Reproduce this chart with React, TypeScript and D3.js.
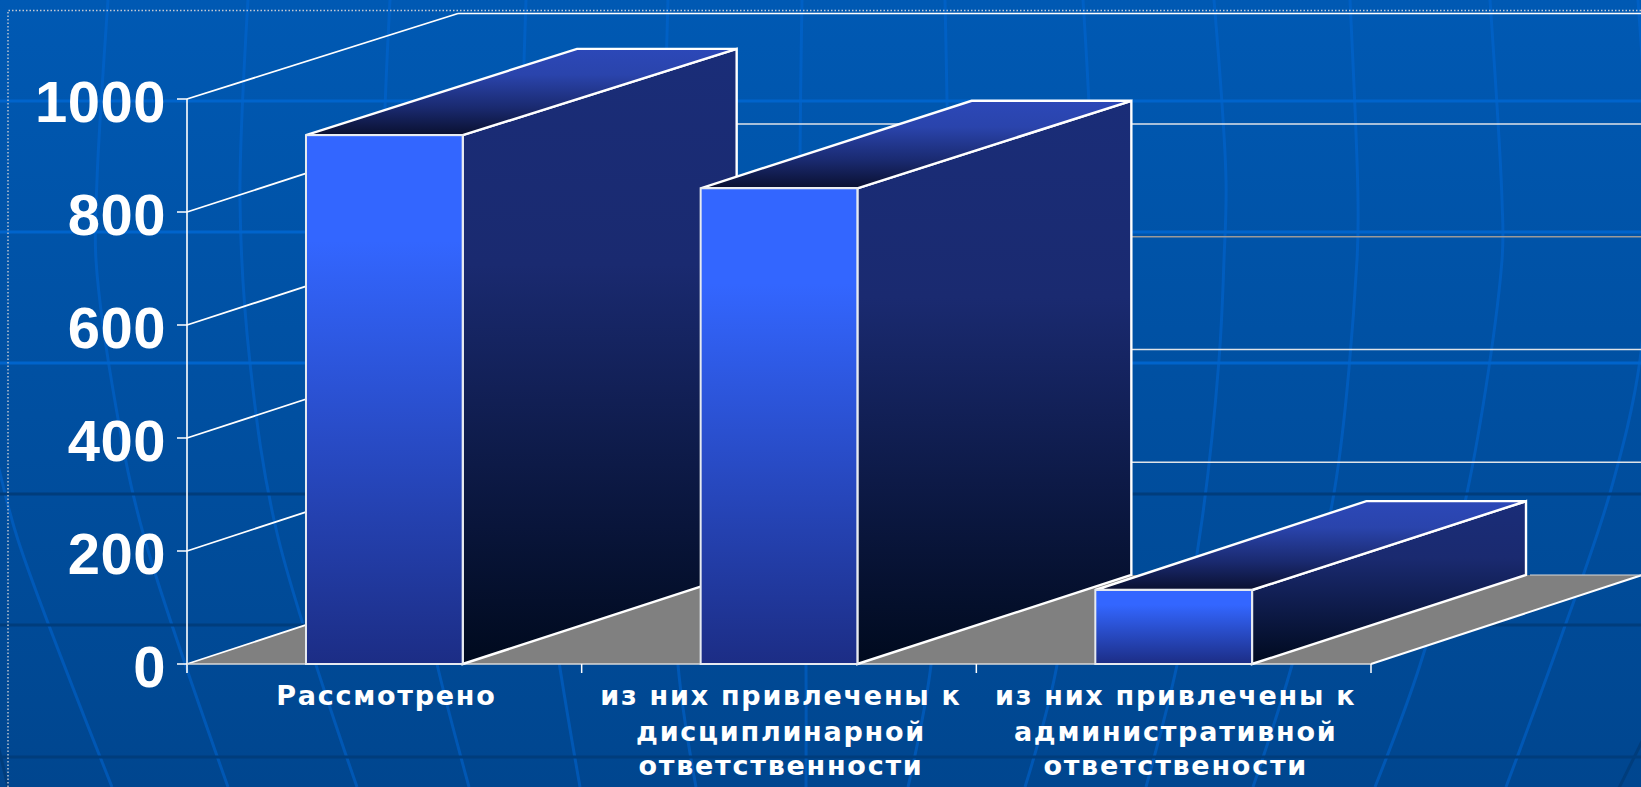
import React, { useEffect, useRef } from 'react';
import * as d3 from 'd3';

const width = 1641;
const height = 787;

const categories = ['Рассмотрено', 'дисциплинарной', 'административной'];
const categoryLabels = [
  ['Рассмотрено'],
  ['из них привлечены к', 'дисциплинарной', 'ответственности'],
  ['из них привлечены к', 'административной', 'ответствености'],
];
const values = [936, 842, 131];
const yTicks = [0, 200, 400, 600, 800, 1000];

// template background, not chart data
const brightBands = [101, 232, 363];
const darkBands = [494, 625, 757];
const meridians: [number, number][][] = [
  [[-40, 300], [0, 473], [18, 540], [112, 787]],
  [[108, 0], [97, 180], [96, 260], [117, 413], [143, 533], [228, 787]],
  [[248, 0], [240, 200], [250, 363], [277, 533], [357, 787]],
  [[390, 0], [383, 200], [390, 363], [410, 533], [437, 664], [469, 787]],
  [[526, 0], [522, 200], [530, 400], [550, 600], [580, 787]],
  [[668, 0], [664, 200], [668, 400], [678, 665], [696, 787]],
  [[802, 0], [800, 180], [802, 400], [806, 665], [806, 787]],
  [[945, 0], [948, 200], [945, 400], [931, 665], [908, 787]],
  [[1083, 0], [1092, 200], [1085, 400], [1057, 665], [1025, 787]],
  [[1214, 0], [1226, 180], [1224, 260], [1219, 360], [1202, 520], [1177, 665], [1146, 787]],
  [[1350, 0], [1358, 200], [1357, 260], [1334, 493], [1292, 665], [1253, 787]],
  [[1490, 0], [1502, 200], [1502, 260], [1467, 493], [1420, 665], [1375, 787]],
  [[1638, 0], [1648, 200], [1640, 360], [1610, 493], [1560, 640], [1506, 787]],
];

const App: React.FC = () => {
  const ref = useRef<SVGSVGElement>(null);

  useEffect(() => {
    if (!ref.current) return;
    const svg = d3.select(ref.current);
    svg.selectAll('*').remove();

    const y = d3.scaleLinear().domain([0, 1000]).range([664, 99]);
    // back wall is a bit squashed in the picture, so it gets its own scale
    const yBack = d3.scaleLinear().domain([0, 800, 1000]).range([575, 124, 13.5]);
    const x = d3.scaleBand<string>().domain(categories).range([187, 1371]).paddingInner(0.603).paddingOuter(0.3015);
    const band = d3.scaleBand<string>().domain(categories).range([187, 1371]);
    const depthX = 271;
    const backWiden = 3;

    const defs = svg.append('defs');
    const gradient = (id: string, stops: [number, string][]) => {
      const g = defs.append('linearGradient').attr('id', id).attr('x1', 0).attr('y1', 0).attr('x2', 0).attr('y2', 1);
      stops.forEach(([o, c]) => g.append('stop').attr('offset', o).attr('stop-color', c));
    };
    gradient('bg', [[0, '#0059b3'], [1, '#00468f']]);
    gradient('front', [[0, '#3366ff'], [0.2, '#3366ff'], [1, '#1c2d85']]);
    gradient('side', [[0, '#1a2d78'], [0.35, '#1a2a70'], [1, '#000a1e']]);
    gradient('top', [[0, '#2c48b8'], [0.3, '#2a44ac'], [0.68, '#1a2a70'], [1, '#0a1030']]);

    svg.append('rect').attr('width', width).attr('height', height).attr('fill', 'url(#bg)');

    const curve = d3.line().curve(d3.curveCatmullRom);
    svg.append('g').selectAll('path').data(meridians).enter().append('path')
      .attr('d', d => curve(d))
      .attr('fill', 'none')
      .attr('stroke', '#0068d8')
      .attr('stroke-opacity', 0.5)
      .attr('stroke-width', 3);
    svg.append('path').attr('d', 'M1618,790L1650,725').attr('fill', 'none').attr('stroke', '#003d7c').attr('stroke-width', 3);
    svg.append('path').attr('d', 'M-2,745L8,787').attr('fill', 'none').attr('stroke', '#003d7c').attr('stroke-width', 3);

    svg.append('g').selectAll('rect').data(brightBands).enter().append('rect')
      .attr('x', 0).attr('y', d => d - 1.5).attr('width', width).attr('height', 3).attr('fill', '#0064cc');
    svg.append('g').selectAll('rect').data(darkBands).enter().append('rect')
      .attr('x', 0).attr('y', d => d - 1.5).attr('width', width).attr('height', 3).attr('fill', '#003d7c');

    // dotted placeholder frame
    svg.append('path').attr('d', `M8,${height}V10.5H${width}`)
      .attr('fill', 'none').attr('stroke', '#c4cad4').attr('stroke-width', 1.4).attr('stroke-dasharray', '1.5 2');

    // floor
    const x0 = 187;
    const x1 = 1371;
    svg.append('polygon')
      .attr('points', [[x0, y(0)], [x1, y(0)], [x1 + depthX, yBack(0)], [x0 + depthX + 1, yBack(0)]].join(' '))
      .attr('fill', '#808080');

    // walls
    const grid = svg.append('g').attr('fill', 'none').attr('stroke', '#ffffff');
    yTicks.forEach(t => {
      if (t > 0) {
        grid.append('line').attr('x1', x0 + depthX).attr('x2', width).attr('y1', yBack(t)).attr('y2', yBack(t))
          .attr('stroke', t === 1000 ? '#ffffff' : t === 600 ? '#9a9a9a' : '#dfe3e8').attr('stroke-width', 1.6);
      }
      grid.append('line').attr('x1', x0).attr('x2', x0 + depthX).attr('y1', y(t)).attr('y2', yBack(t))
        .attr('stroke-width', 1.8);
      grid.append('line').attr('x1', x0 - 10).attr('x2', x0).attr('y1', y(t)).attr('y2', y(t)).attr('stroke-width', 1.5);
    });
    grid.append('line').attr('x1', x0).attr('x2', x0).attr('y1', y(1000)).attr('y2', y(0) + 9).attr('stroke-width', 1.6);
    grid.append('line').attr('x1', x1).attr('x2', x1 + depthX).attr('y1', y(0)).attr('y2', yBack(0)).attr('stroke-width', 2);
    grid.append('line').attr('x1', x0).attr('x2', x1).attr('y1', y(0)).attr('y2', y(0)).attr('stroke', '#d8d8d8').attr('stroke-width', 1.6);
    grid.append('line').attr('x1', 1530).attr('x2', x1 + depthX).attr('y1', yBack(0)).attr('y2', yBack(0)).attr('stroke', '#d8d8d8').attr('stroke-width', 1.2);
    [band(categories[1])!, band(categories[2])!, x1].forEach(t => {
      grid.append('line').attr('x1', t).attr('x2', t).attr('y1', y(0)).attr('y2', y(0) + 9).attr('stroke-width', 1.5);
    });

    // bars, back to front
    categories.forEach((c, i) => {
      const v = values[i];
      const left = x(c)!;
      const right = left + x.bandwidth();
      const backRight = right + depthX + backWiden;
      const bar = svg.append('g').attr('stroke', '#ffffff').attr('stroke-linejoin', 'miter');
      bar.append('polygon')
        .attr('points', [[right, y(0)], [backRight, yBack(0)], [backRight, yBack(v)], [right, y(v)]].join(' '))
        .attr('fill', 'url(#side)').attr('stroke-width', 2.4);
      bar.append('polygon')
        .attr('points', [[left, y(v)], [right, y(v)], [backRight, yBack(v)], [left + depthX, yBack(v)]].join(' '))
        .attr('fill', 'url(#top)').attr('stroke-width', 2.4);
      bar.append('rect')
        .attr('x', left).attr('y', y(v)).attr('width', x.bandwidth()).attr('height', y(0) - y(v))
        .attr('fill', 'url(#front)').attr('stroke', '#e6eaf0').attr('stroke-width', 2);
    });

    // y labels
    svg.append('g').selectAll('text').data(yTicks).enter().append('text')
      .attr('x', 166)
      .attr('y', d => y(d) + 23)
      .attr('text-anchor', 'end')
      .attr('font-family', '"Liberation Sans", Arial, sans-serif')
      .attr('font-weight', 700)
      .attr('font-size', 58)
      .attr('letter-spacing', 0.5)
      .attr('fill', '#ffffff')
      .text(d => String(d));

    // x labels
    const lineBaselines = [705, 741, 775];
    categories.forEach((c, i) => {
      categoryLabels[i].forEach((line, j) => {
        svg.append('text')
          .attr('x', band(c)! + band.bandwidth() / 2 + 2)
          .attr('y', lineBaselines[j])
          .attr('text-anchor', 'middle')
          .attr('font-family', '"DejaVu Sans", sans-serif')
          .attr('font-weight', 700)
          .attr('font-size', 27)
          .attr('letter-spacing', 1.75)
          .attr('fill', '#ffffff')
          .text(line);
      });
    });
  }, []);

  return (
    <svg
      ref={ref}
      width={width}
      height={height}
      viewBox={`0 0 ${width} ${height}`}
      style={{ position: 'absolute', left: 0, top: 0, display: 'block' }}
    />
  );
};

export default App;
